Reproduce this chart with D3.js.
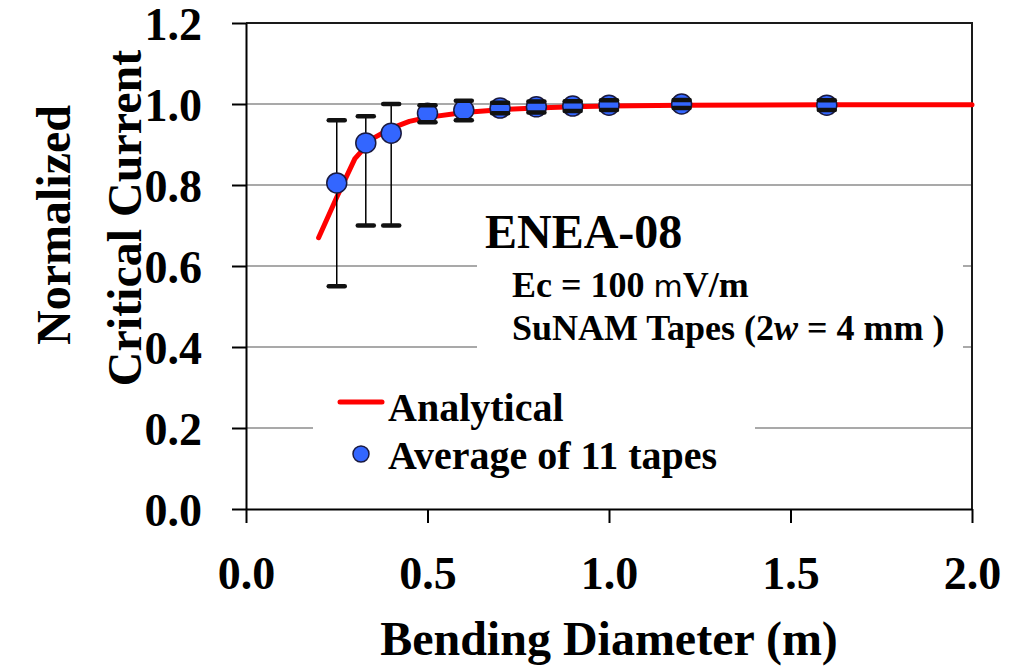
<!DOCTYPE html>
<html>
<head>
<meta charset="utf-8">
<script src="https://cdn.jsdelivr.net/npm/d3@7"></script>
<style>
  body { margin: 0; background: #fff; }
  text { font-family: "Liberation Serif", "Times New Roman", serif; font-weight: bold; fill: #000; }
</style>
</head>
<body>
<svg id="chart" width="1017" height="666"></svg>
<script>
// bending diameter (m) of the measured points
var diameters = [0.25, 0.33, 0.4, 0.5, 0.6, 0.7, 0.8, 0.9, 1.0, 1.2, 1.6];
// average normalized Ic of 11 tapes
var averages = [0.805, 0.904, 0.928, 0.977, 0.985, 0.99, 0.993, 0.995, 0.997, 1.0, 0.997];
var errLow = [0.55, 0.70, 0.70, 0.955, 0.960, 0.977, 0.979, 0.983, 0.985, 0.990, 0.985];
var errHigh = [0.96, 0.97, 1.00, 0.997, 1.008, 1.003, 1.006, 1.007, 1.009, 1.010, 1.009];

// analytical curve
var analyticX = [0.2, 0.25, 0.3, 0.35, 0.4, 0.45, 0.5, 0.6, 0.7, 0.8, 0.9, 1.0, 1.2, 1.6, 2.0];
var analyticY = [0.67, 0.77, 0.865, 0.915, 0.94, 0.957, 0.967, 0.979, 0.986, 0.99, 0.993, 0.995, 0.997, 0.998, 0.998];

var xTicks = [0, 0.5, 1.0, 1.5, 2.0];
var yTicks = [0, 0.2, 0.4, 0.6, 0.8, 1.0, 1.2];

const plotLeft = 246, plotRight = 972, plotTop = 23, plotBottom = 509;

const svg = d3.select("#chart");

var x = d3.scaleLinear().domain([0, 2]).range([plotLeft, plotRight]);
var y = d3.scaleLinear().domain([0, 1.2]).range([plotBottom, plotTop]);

// gridlines
svg.append("g")
  .selectAll("line")
  .data(yTicks.filter(function(d) { return d > 0 && d < 1.2 }))
  .enter()
  .append("line")
  .attr("x1", plotLeft).attr("x2", plotRight)
  .attr("y1", function(d) { return y(d) })
  .attr("y2", function(d) { return y(d) })
  .style("stroke", "#8c8c8c")
  .style("stroke-width", 1.5);

// white boxes behind the annotation and the legend
svg.append("rect").attr("x", 477).attr("y", 200).attr("width", 486).attr("height", 158).style("fill", "#fff");
svg.append("rect").attr("x", 313).attr("y", 382).attr("width", 442).attr("height", 98).style("fill", "#fff");

// frame top and right
svg.append("path")
  .attr("d", "M" + plotLeft + "," + plotTop + "H" + plotRight + "V" + plotBottom)
  .style("fill", "none")
  .style("stroke", "#1a1a1a")
  .style("stroke-width", 2);

// axes
var yAxis = svg.append("g")
  .attr("transform", "translate(" + plotLeft + ",0)")
  .call(d3.axisLeft(y).tickValues(yTicks).tickSize(14).tickSizeOuter(0).tickFormat(d3.format(".1f")));
yAxis.selectAll("text")
  .attr("x", -44)
  .attr("dy", "0.35em")
  .style("font-size", "46px")
  .style("font-family", "'Liberation Serif', serif")
  .style("font-weight", "bold");

var xAxis = svg.append("g")
  .attr("transform", "translate(0," + plotBottom + ")")
  .call(d3.axisBottom(x).tickValues(xTicks).tickSize(14).tickSizeOuter(0).tickFormat(d3.format(".1f")));
xAxis.selectAll("text")
  .attr("y", 80)
  .attr("dy", 0)
  .style("font-size", "46px")
  .style("font-family", "'Liberation Serif', serif")
  .style("font-weight", "bold");

svg.selectAll(".domain, .tick line")
  .style("stroke", "#000")
  .style("stroke-width", 2);

// axis titles
svg.append("text")
  .attr("transform", "translate(70,225) rotate(-90)")
  .attr("text-anchor", "middle")
  .style("font-size", "48px")
  .text("Normalized");
svg.append("text")
  .attr("transform", "translate(141,218) rotate(-90)")
  .attr("text-anchor", "middle")
  .style("font-size", "48px")
  .text("Critical Current");
svg.append("text")
  .attr("x", 609).attr("y", 655)
  .attr("text-anchor", "middle")
  .style("font-size", "48px")
  .text("Bending Diameter (m)");

// annotation
svg.append("text").attr("x", 485).attr("y", 248).style("font-size", "48px").text("ENEA-08");
var ec = svg.append("text").attr("x", 512).attr("y", 297).style("font-size", "36px");
ec.append("tspan").text("Ec = 100 ");
ec.append("tspan").style("font-family", "'DejaVu Sans', sans-serif").style("font-weight", "normal").style("font-size", "30px").text("m");
ec.append("tspan").text("V/m");
var su = svg.append("text").attr("x", 512).attr("y", 340).style("font-size", "36px");
su.append("tspan").text("SuNAM Tapes (2");
su.append("tspan").style("font-style", "italic").text("w");
su.append("tspan").text(" = 4 mm )");

// analytical line
var line = d3.line()
  .x(function(d) { return x(d[0]) })
  .y(function(d) { return y(d[1]) });

svg.append("path")
  .datum(d3.zip(analyticX, analyticY))
  .attr("d", line)
  .style("fill", "none")
  .style("stroke", "#ff0000")
  .style("stroke-width", 5)
  .style("stroke-linecap", "round")
  .style("stroke-linejoin", "round");

var pts = diameters.map(function(d, i) {
  return { x: d, y: averages[i], lo: errLow[i], hi: errHigh[i] }
});

// error whiskers
svg.append("g")
  .selectAll("line")
  .data(pts)
  .enter()
  .append("line")
  .attr("x1", function(d) { return x(d.x) })
  .attr("x2", function(d) { return x(d.x) })
  .attr("y1", function(d) { return y(d.lo) })
  .attr("y2", function(d) { return y(d.hi) })
  .style("stroke", "#000")
  .style("stroke-width", 1.5);

// markers
svg.append("g")
  .selectAll("circle")
  .data(pts)
  .enter()
  .append("circle")
  .attr("cx", function(d) { return x(d.x) })
  .attr("cy", function(d) { return y(d.y) })
  .attr("r", 10)
  .style("fill", "#3366ff")
  .style("stroke", "#1a1a40")
  .style("stroke-width", 1.5);

// error caps
var caps = [];
pts.forEach(function(d) { caps.push({ x: d.x, v: d.lo }); caps.push({ x: d.x, v: d.hi }); });
svg.append("g")
  .selectAll("line")
  .data(caps)
  .enter()
  .append("line")
  .attr("x1", function(d) { return x(d.x) - 8 })
  .attr("x2", function(d) { return x(d.x) + 8 })
  .attr("y1", function(d) { return y(d.v) })
  .attr("y2", function(d) { return y(d.v) })
  .style("stroke", "#111")
  .style("stroke-width", 4.5)
  .style("stroke-linecap", "round");

// legend
svg.append("line")
  .attr("x1", 340).attr("x2", 382).attr("y1", 402).attr("y2", 402)
  .style("stroke", "#ff0000")
  .style("stroke-width", 5)
  .style("stroke-linecap", "round");
svg.append("text").attr("x", 388).attr("y", 421).style("font-size", "40px").text("Analytical");
svg.append("circle")
  .attr("cx", 361).attr("cy", 454).attr("r", 8)
  .style("fill", "#3366ff")
  .style("stroke", "#1a1a40")
  .style("stroke-width", 1.5);
svg.append("text").attr("x", 388).attr("y", 469).style("font-size", "40px").text("Average of 11 tapes");
</script>
</body>
</html>
